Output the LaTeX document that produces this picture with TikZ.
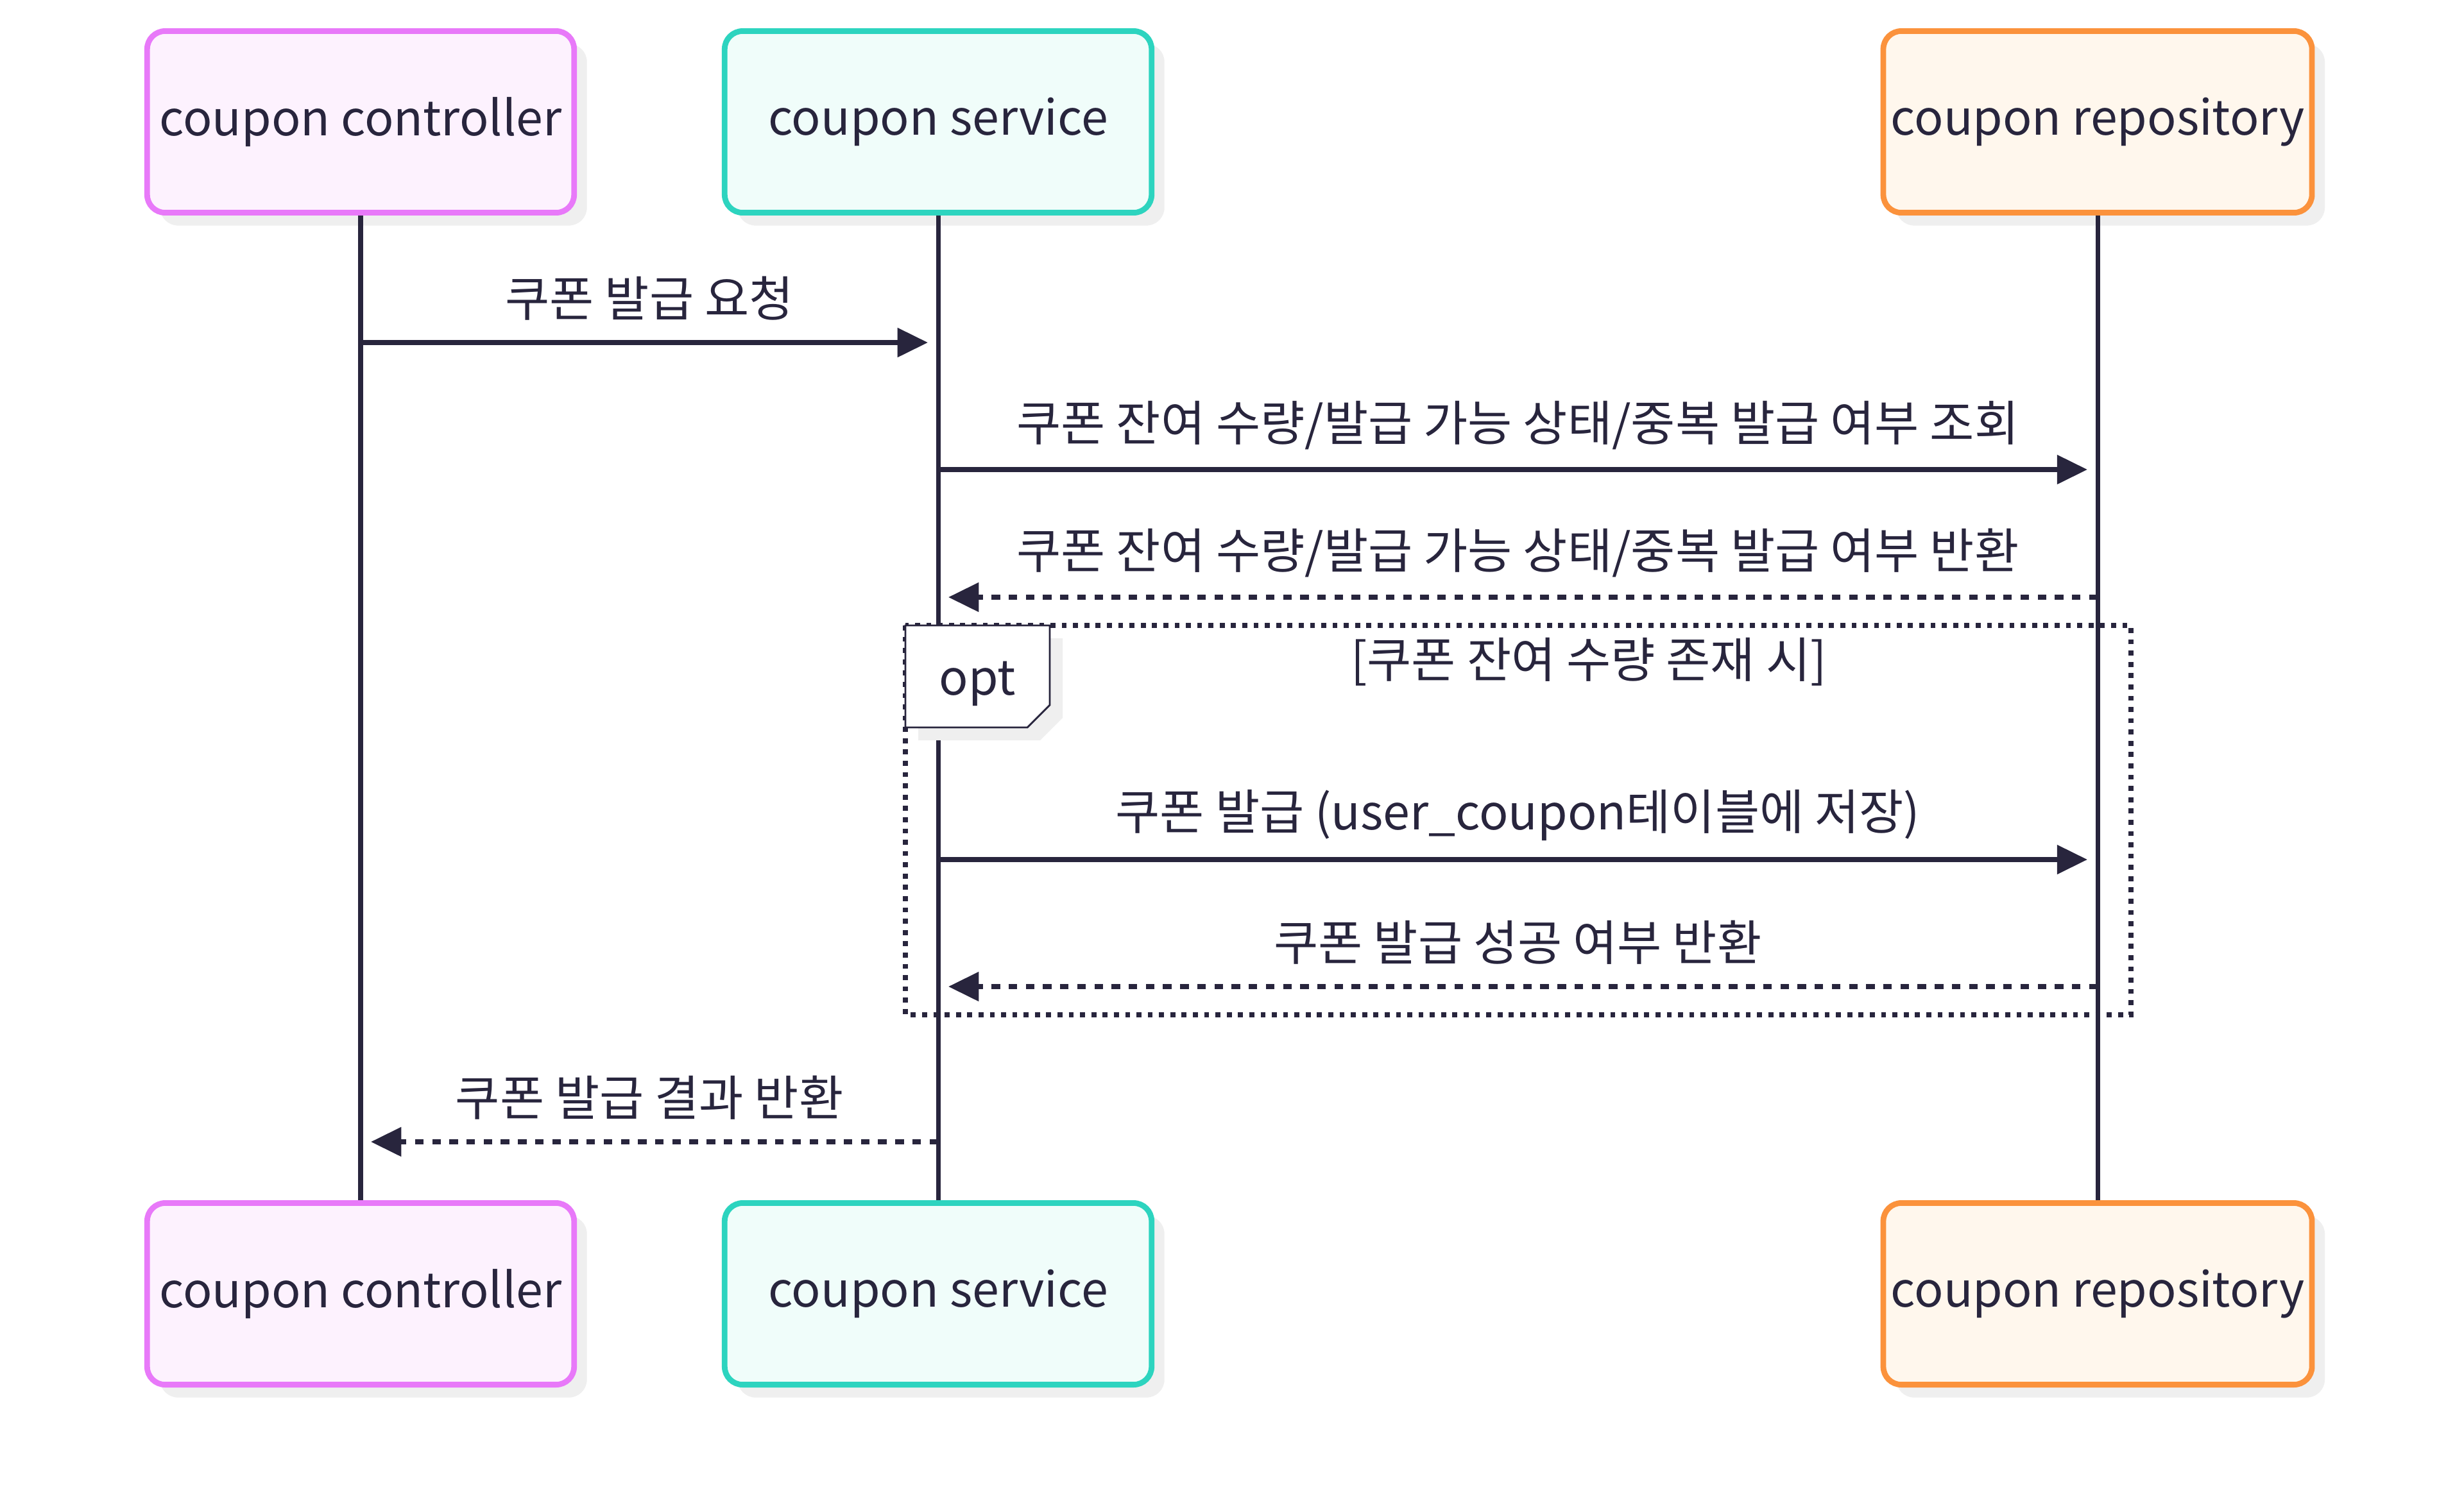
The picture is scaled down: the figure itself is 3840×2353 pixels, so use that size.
\documentclass[tikz,border=0pt]{standalone}
\usepackage{fontspec}
\setmainfont{Noto Sans CJK KR}
\usepackage{xcolor}
\usetikzlibrary{arrows.meta, shadows, positioning}

\definecolor{ink}{HTML}{28253D}
\definecolor{shade}{HTML}{EFEFEF}
\definecolor{ctrlline}{HTML}{E879F9}
\definecolor{ctrlfill}{HTML}{FDF2FE}
\definecolor{svcline}{HTML}{2DD4BF}
\definecolor{svcfill}{HTML}{F0FDFA}
\definecolor{repoline}{HTML}{FB923C}
\definecolor{repofill}{HTML}{FFF7ED}

\tikzset{
    actor/.style = {draw, rounded corners = 8pt, line width = 2.5pt,
        minimum width = 6.65cm, minimum height = 2.83cm, text = ink,
        drop shadow = {shadow xshift = 0.2cm, shadow yshift = -0.2cm,
            fill = shade, opacity = 1}},
    lifeline/.style = {draw = ink, line width = 2pt},
    call/.style = {draw = ink, line width = 2.4pt, shorten > = 4.5pt,
        -{Triangle[length = 13.5pt, width = 12.5pt]}},
    reply/.style = {call, dash pattern = on 3.8pt off 3.8pt},
    msgtext/.style = {midway, text = ink, yshift = 0.69cm},
    optframe/.style = {draw = ink, line width = 2.2pt,
        dash pattern = on 2.2pt off 2.8pt},
    opttag/.style = {draw = ink, fill = white, line width = 0.8pt,
        drop shadow = {shadow xshift = 0.2cm, shadow yshift = -0.2cm,
            fill = shade, opacity = 1}},
}

\begin{document}
\begin{tikzpicture}[x = 0.01cm, y = -0.01cm, font = \fontsize{21.4}{25}\selectfont]
    \fill[white] (0, 0) rectangle (3840, 2353);
    \useasboundingbox (0, 0) rectangle (3840, 2353);

    % participants
    \node (CtrlTop) [actor, draw = ctrlline, fill = ctrlfill] at (562, 190) {coupon controller};
    \node (SvcTop) [actor, draw = svcline, fill = svcfill] at (1462, 190) {coupon service};
    \node (RepoTop) [actor, draw = repoline, fill = repofill] at (3269, 190) {coupon repository};
    \node (CtrlBot) [actor, draw = ctrlline, fill = ctrlfill] at (562, 2017) {coupon controller};
    \node (SvcBot) [actor, draw = svcline, fill = svcfill] at (1462, 2017) {coupon service};
    \node (RepoBot) [actor, draw = repoline, fill = repofill] at (3269, 2017) {coupon repository};

    \draw[lifeline] (CtrlTop) -- (CtrlBot);
    \draw[lifeline] (SvcTop) -- (SvcBot);
    \draw[lifeline] (RepoTop) -- (RepoBot);

    % opt block
    \coordinate (OptNW) at (1411, 975);
    \coordinate (OptSE) at (3321, 1582);
    \draw[optframe] (OptNW) rectangle (OptSE);
    \draw[opttag] (OptNW) -- (1636, 975) -- (1636, 1099) -- (1601, 1134) -- (1411, 1134) -- cycle;
    \node (OptTag) [text = ink] at (1523, 1066) {opt};
    \node (OptCond) [text = ink] at (2476, 1032) {[쿠폰 잔여 수량 존재 시]};

    % messages
    \coordinate (Ctrl1) at (562, 534);
    \coordinate (Svc1) at (1462, 534);
    \coordinate (Svc2) at (1462, 732);
    \coordinate (Repo2) at (3269, 732);
    \coordinate (Repo3) at (3269, 931);
    \coordinate (Svc3) at (1462, 931);
    \coordinate (Svc4) at (1462, 1340);
    \coordinate (Repo4) at (3269, 1340);
    \coordinate (Repo5) at (3269, 1538);
    \coordinate (Svc5) at (1462, 1538);
    \coordinate (Svc6) at (1462, 1780);
    \coordinate (Ctrl6) at (562, 1780);

    \draw[call] (Ctrl1) -- node[msgtext] (M1) {쿠폰 발급 요청} (Svc1);
    \draw[call] (Svc2) -- node[msgtext] (M2) {쿠폰 잔여 수량/발급 가능 상태/중복 발급 여부 조회} (Repo2);
    \draw[reply] (Repo3) -- node[msgtext] (M3) {쿠폰 잔여 수량/발급 가능 상태/중복 발급 여부 반환} (Svc3);
    \draw[call] (Svc4) -- node[msgtext] (M4) {쿠폰 발급 (user\_coupon테이블에 저장)} (Repo4);
    \draw[reply] (Repo5) -- node[msgtext] (M5) {쿠폰 발급 성공 여부 반환} (Svc5);
    \draw[reply] (Svc6) -- node[msgtext] (M6) {쿠폰 발급 결과 반환} (Ctrl6);
\end{tikzpicture}
\end{document}
